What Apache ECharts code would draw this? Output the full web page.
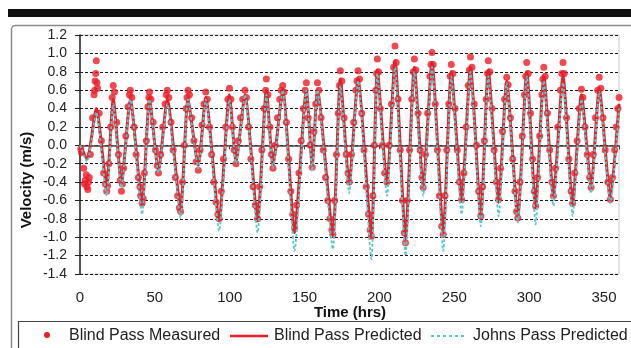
<!DOCTYPE html>
<html>
<head>
<meta charset="utf-8">
<script src="https://cdn.jsdelivr.net/npm/echarts@6/dist/echarts.min.js"></script>
<style>html,body{margin:0;padding:0;background:#fff}#c{width:631px;height:348px}</style>
</head>
<body>
<div id="c"></div>
<script>
// Time (hrs) of the predicted-curve turning points
var predTime = [0,4.7,10.9,17.8,22.2,27.7,33.6,41.5,46.4,52.4,
  58.3,67.2,72.1,79.0,84.0,92.9,99.8,104.2,110.2,118.6,
  124.5,128.9,135.4,143.3,151.2,155.1,158.6,168.9,173.9,179.8,
  185.7,194.6,198.6,205.0,210.4,217.4,223.3,229.2,235.1,242.6,
  248.0,254.9,260.8,267.7,272.7,279.6,285.0,292.4,298.4,304.3,
  309.8,316.2,322.6,329.0,334.9,341.4,346.8,354.2,360];
// Blind Pass Predicted velocity (m/s)
var bpPred = [0.0,-0.15,0.4,-0.45,0.5,-0.42,0.5,-0.65,0.5,-0.28,
  0.5,-0.7,0.5,-0.22,0.52,-0.82,0.55,-0.18,0.55,-0.82,
  0.6,-0.22,0.6,-0.95,0.6,-0.22,0.6,-0.98,0.72,-0.42,
  0.72,-1.0,0.82,-0.42,0.92,-1.02,0.85,-0.45,0.9,-0.95,
  0.8,-0.6,0.85,-0.78,0.82,-0.62,0.7,-0.78,0.8,-0.68,
  0.75,-0.55,0.75,-0.65,0.55,-0.45,0.62,-0.58,0.45];
// Johns Pass Predicted velocity (m/s)
var jpPred = [0.0,-0.18,0.36,-0.55,0.45,-0.46,0.5,-0.75,0.5,-0.3,
  0.45,-0.79,0.5,-0.25,0.5,-0.93,0.5,-0.2,0.55,-0.95,
  0.55,-0.25,0.6,-1.15,0.6,-0.28,0.6,-1.13,0.65,-0.52,
  0.7,-1.24,0.78,-0.55,0.85,-1.2,0.8,-0.55,0.85,-1.15,
  0.75,-0.75,0.8,-0.88,0.75,-0.77,0.68,-0.84,0.75,-0.86,
  0.7,-0.66,0.68,-0.77,0.5,-0.52,0.58,-0.63,0.4];
// Blind Pass Measured [time (hrs), velocity (m/s)]
var measured = [
 [0.5,-0.04],[1.0,-0.08],[2.5,-0.25],[3.0,-0.42],[3.5,-0.38],[4.2,-0.32],[4.7,-0.45],[5.2,-0.48],[5.7,-0.40],[6.2,-0.35],
 [6.9,-0.1],[8.4,0.3],[9.4,0.55],[9.8,0.6],[10.1,0.7],[10.5,0.78],[10.9,0.92],[11.3,0.68],[11.7,0.62],
 [12.8,0.35],[14.3,0.05],[15.8,-0.3],[17.0,-0.42],[17.8,-0.5],[18.4,-0.44],
 [19.3,-0.2],[20.5,0.2],[21.5,0.52],[22.2,0.65],[23.0,0.58],
 [24.5,0.25],[25.7,-0.1],[26.9,-0.38],[27.7,-0.5],[28.3,-0.42],
 [29.1,-0.25],[30.6,0.1],[32.1,0.42],[33.0,0.55],[33.6,0.6],[34.6,0.52],
 [36.1,0.2],[37.5,-0.1],[39.0,-0.35],[40.0,-0.45],[40.5,-0.55],[41.5,-0.63],[42.2,-0.58],
 [43.0,-0.3],[44.3,0.05],[45.4,0.42],[46.0,0.52],[46.4,0.58],[47.4,0.5],
 [48.9,0.25],[50.4,-0.05],[51.6,-0.22],[52.4,-0.3],
 [53.8,-0.1],[55.3,0.2],[56.8,0.45],[57.6,0.55],[58.3,0.6],[59.3,0.52],
 [60.8,0.25],[62.2,-0.05],[63.7,-0.35],[65.2,-0.55],[66.4,-0.68],[67.2,-0.72],
 [68.4,-0.4],[69.7,0.0],[70.9,0.4],[71.5,0.52],[72.1,0.6],[73.1,0.55],
 [74.6,0.3],[76.1,0.05],[77.6,-0.18],[79.0,-0.27],
 [80.2,-0.05],[81.5,0.22],[82.8,0.45],[84.0,0.58],[85.0,0.5],
 [86.5,0.2],[87.9,-0.1],[89.4,-0.4],[90.9,-0.62],[92.1,-0.75],[92.9,-0.8],
 [94.4,-0.5],[95.8,-0.15],[97.3,0.2],[98.8,0.5],[99.8,0.62],[100.8,0.5],
 [101.8,0.2],[103.0,-0.05],[104.2,-0.2],
 [105.7,0.05],[107.2,0.3],[108.7,0.5],[110.2,0.6],[111.2,0.52],
 [112.6,0.2],[114.1,-0.15],[115.6,-0.45],[117.1,-0.65],[118.6,-0.8],
 [120.0,-0.45],[121.5,-0.05],[123.0,0.4],[124.0,0.6],[124.5,0.72],[125.5,0.55],
 [126.8,0.2],[127.9,-0.1],[128.9,-0.25],
 [130.4,0.0],[131.9,0.3],[133.4,0.5],[134.4,0.6],[135.4,0.65],[136.3,0.58],
 [137.8,0.25],[139.3,-0.15],[140.8,-0.5],[142.1,-0.75],[143.3,-0.9],
 [144.7,-0.65],[146.2,-0.3],[147.7,0.05],[149.2,0.4],[150.4,0.6],[151.2,0.68],
 [152.4,0.3],[153.7,0.0],[155.1,-0.24],
 [156.3,0.15],[157.4,0.45],[158.6,0.68],[159.6,0.6],
 [161.0,0.3],[162.5,-0.05],[164.0,-0.35],[165.5,-0.6],[167.0,-0.8],[168.2,-0.92],[168.9,-0.97],
 [170.1,-0.6],[171.3,-0.1],[172.5,0.35],[173.3,0.65],[173.9,0.81],[174.9,0.7],
 [176.4,0.3],[177.8,-0.1],[179.0,-0.3],[179.8,-0.4],
 [181.3,-0.1],[182.8,0.25],[184.3,0.6],[185.0,0.7],[185.7,0.81],[186.7,0.72],
 [188.2,0.35],[189.7,-0.05],[191.2,-0.45],[192.7,-0.75],[193.8,-0.92],[194.6,-0.99],
 [195.6,-0.55],[196.6,0.0],[197.6,0.6],[198.1,0.78],[198.6,0.94],[199.4,0.8],
 [200.6,0.4],[202.0,0.0],[203.5,-0.3],[205.0,-0.4],
 [206.5,0.0],[208.0,0.45],[209.5,0.85],[210.4,1.08],[211.2,0.9],
 [212.4,0.5],[213.9,-0.05],[215.4,-0.6],[216.6,-0.95],[217.4,-1.06],
 [218.6,-0.6],[220.1,-0.05],[221.6,0.5],[222.6,0.8],[223.3,0.94],[224.3,0.82],
 [225.8,0.35],[227.2,-0.05],[228.4,-0.35],[229.2,-0.46],
 [230.7,-0.1],[232.2,0.35],[233.7,0.75],[234.4,0.88],[235.1,1.01],[235.9,0.88],
 [237.3,0.45],[238.7,-0.05],[240.1,-0.55],[241.6,-0.88],[242.6,-0.97],
 [243.8,-0.55],[245.0,-0.05],[246.3,0.45],[247.3,0.75],[248.0,0.88],[249.0,0.78],
 [250.5,0.4],[252.0,-0.05],[253.4,-0.4],[254.9,-0.59],
 [256.4,-0.3],[257.9,0.2],[259.3,0.65],[260.1,0.82],[260.8,0.96],[261.8,0.85],
 [263.3,0.45],[264.8,0.0],[266.3,-0.5],[267.7,-0.77],
 [268.9,-0.45],[270.1,0.05],[271.3,0.5],[272.2,0.78],[272.7,0.92],[273.7,0.8],
 [275.2,0.4],[276.6,-0.05],[278.1,-0.4],[279.6,-0.59],
 [280.9,-0.25],[282.2,0.15],[283.6,0.5],[285.0,0.74],[286.0,0.66],
 [287.5,0.3],[289.0,-0.15],[290.5,-0.5],[291.6,-0.72],[292.4,-0.79],
 [293.9,-0.4],[295.4,0.1],[296.9,0.55],[297.7,0.75],[298.4,0.9],[299.4,0.78],
 [300.9,0.35],[302.3,-0.15],[303.5,-0.5],[304.3,-0.66],
 [305.6,-0.35],[307.0,0.1],[308.5,0.55],[309.2,0.72],[309.8,0.85],[310.7,0.75],
 [312.2,0.35],[313.7,-0.05],[315.2,-0.4],[316.2,-0.55],
 [317.6,-0.25],[319.1,0.2],[320.9,0.6],[321.8,0.78],[322.6,0.9],[323.4,0.78],
 [325.0,0.3],[326.5,-0.15],[328.0,-0.5],[329.0,-0.63],
 [330.5,-0.3],[332.0,0.05],[333.4,0.4],[334.9,0.61],[335.9,0.52],
 [337.3,0.2],[338.8,-0.1],[340.4,-0.35],[341.4,-0.46],
 [342.8,-0.1],[344.3,0.3],[345.8,0.6],[346.8,0.74],[347.8,0.62],
 [349.3,0.3],[350.8,-0.05],[352.6,-0.4],[354.2,-0.59],
 [355.6,-0.35],[357.1,-0.05],[358.1,0.2],[359.2,0.4],[360,0.52]
];
var xTicks = [0,50,100,150,200,250,300,350];
var yTicks = [-1.4,-1.2,-1.0,-0.8,-0.6,-0.4,-0.2,0.0,0.2,0.4,0.6,0.8,1.0,1.2];
var seriesNames = ['Blind Pass Measured','Blind Pass Predicted','Johns Pass Predicted'];

var RED = '#ee1c25', CYAN = '#5cc6cb';
var FONT = "'Liberation Sans', Arial, sans-serif";

var chart = echarts.init(document.getElementById('c'), null, {renderer:'canvas'});
var bpData = predTime.map(function(t,i){return [t,bpPred[i]];});
var jpData = predTime.map(function(t,i){return [t,jpPred[i]];});

chart.setOption({
  animation:false,
  backgroundColor:'#fff',
  grid:{left:80,right:12,top:35,bottom:74,show:true,borderColor:'#c8c8c8',borderWidth:1,backgroundColor:'#fff'},
  xAxis:[{
    type:'value',min:xTicks[0],max:360,interval:50,position:'bottom',
    axisLine:{show:false,onZero:false},axisTick:{show:false},splitLine:{show:false},
    axisLabel:{showMaxLabel:false,margin:16,fontSize:15,color:'#222',fontFamily:FONT}
  },{
    type:'value',min:xTicks[0],max:360,interval:50,position:'bottom',
    axisLine:{show:true,onZero:true,lineStyle:{color:'#444',width:1.5}},
    axisTick:{show:true,length:4,lineStyle:{color:'#444'}},
    axisLabel:{show:false},splitLine:{show:false}
  }],
  yAxis:{
    type:'value',min:yTicks[0],max:yTicks[yTicks.length-1],interval:0.2,
    axisLine:{show:true,lineStyle:{color:'#222',width:1.5}},
    axisTick:{show:true,length:5,lineStyle:{color:'#222'}},
    axisLabel:{margin:13,fontSize:14,color:'#222',fontFamily:FONT,formatter:function(v){return v.toFixed(1);}},
    splitLine:{show:true,lineStyle:{color:'#1a1a1a',width:1.2,type:[3,2]}}
  },
  series:[{
    name:seriesNames[0],type:'scatter',data:measured,symbol:'circle',symbolSize:7,
    itemStyle:{color:RED},z:2
  },{
    name:seriesNames[1],type:'line',data:bpData,showSymbol:false,smooth:0.2,
    lineStyle:{color:'#e2222a',width:3},z:3
  },{
    name:seriesNames[2],type:'line',data:jpData,showSymbol:false,smooth:0.2,
    lineStyle:{color:CYAN,width:1.8,type:[3,2]},z:4
  }],
  graphic:[
    {type:'rect',shape:{x:8,y:9,width:640,height:8},style:{fill:'#111'}},
    {type:'rect',shape:{x:11.5,y:25.5,width:640,height:340,r:4},style:{fill:'none',stroke:'#8a8a8a',lineWidth:1.5}},
    {type:'rect',shape:{x:18.5,y:321.5,width:640,height:40},style:{fill:'none',stroke:'#444',lineWidth:1.2}},
    {type:'text',x:27,y:180,rotation:Math.PI/2,style:{text:'Velocity (m/s)',font:'bold 15px '+FONT,fill:'#111',textAlign:'center',textVerticalAlign:'middle'}},
    {type:'text',x:350,y:313,style:{text:'Time (hrs)',font:'bold 15px '+FONT,fill:'#111',textAlign:'center',textVerticalAlign:'middle'}},
    {type:'circle',shape:{cx:47,cy:335,r:3},style:{fill:RED}},
    {type:'text',x:69,y:336,style:{text:seriesNames[0],font:'16px '+FONT,fill:'#222',textVerticalAlign:'middle'}},
    {type:'line',shape:{x1:230,y1:336,x2:268,y2:336},style:{stroke:RED,lineWidth:2.5}},
    {type:'text',x:274,y:336,style:{text:seriesNames[1],font:'16px '+FONT,fill:'#222',textVerticalAlign:'middle'}},
    {type:'line',shape:{x1:431,y1:336,x2:464,y2:336},style:{stroke:CYAN,lineWidth:2,lineDash:[3,3]}},
    {type:'text',x:473,y:336,style:{text:seriesNames[2],font:'16px '+FONT,fill:'#222',textVerticalAlign:'middle'}}
  ]
});
</script>
</body>
</html>
